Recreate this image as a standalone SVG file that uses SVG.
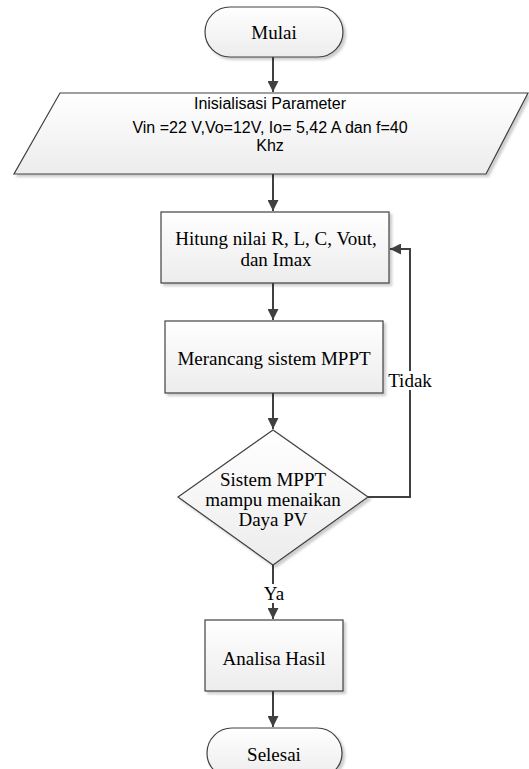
<svg xmlns="http://www.w3.org/2000/svg" width="529" height="769" viewBox="0 0 529 769">
<style>
.shape{fill:url(#g);stroke:#404040;stroke-width:1.2;filter:url(#sh)}
.serif{font-family:"Liberation Serif","Times New Roman",serif;font-size:19px;fill:#000;text-anchor:middle}
.sans{font-family:"Liberation Sans",Arial,sans-serif;font-size:16px;fill:#000;text-anchor:middle}
.conn{fill:none;stroke:#404040;stroke-width:2}
</style>
<defs>
<linearGradient id="g" x1="0" y1="0" x2="0" y2="1">
<stop offset="0" stop-color="#ffffff"/>
<stop offset="1" stop-color="#ececec"/>
</linearGradient>
<filter id="sh" x="-10%" y="-10%" width="130%" height="130%">
<feDropShadow dx="2.5" dy="2.5" stdDeviation="1" flood-color="#000" flood-opacity="0.2"/>
</filter>
<marker id="ah" viewBox="0 0 10 10" refX="10" refY="5" markerWidth="5.5" markerHeight="5.5" orient="auto">
<path d="M0,0 L10,5 L0,10 z" fill="#404040"/>
</marker>
</defs>
<rect width="529" height="769" fill="#fff"/>
<g id="connectors">
<line class="conn" x1="273" y1="57" x2="273" y2="92" marker-end="url(#ah)"/>
<line class="conn" x1="273" y1="174" x2="273" y2="211" marker-end="url(#ah)"/>
<line class="conn" x1="273" y1="283" x2="273" y2="320" marker-end="url(#ah)"/>
<line class="conn" x1="273" y1="393" x2="273" y2="429" marker-end="url(#ah)"/>
<line class="conn" x1="273" y1="565" x2="273" y2="584"/>
<line class="conn" x1="273" y1="603" x2="273" y2="619" marker-end="url(#ah)"/>
<line class="conn" x1="273" y1="691" x2="273" y2="727" marker-end="url(#ah)"/>
<polyline class="conn" points="368,497 410,497 410,390"/>
<polyline class="conn" points="410,371 410,249 390,249" marker-end="url(#ah)"/>
<text class="serif" x="274" y="600">Ya</text>
<text class="serif" x="410" y="387">Tidak</text>
</g>
<g id="mulai">
<rect class="shape" x="205" y="7" width="138" height="50" rx="25" ry="25"/>
<text class="serif" x="274" y="39">Mulai</text>
</g>
<g id="inisialisasi">
<polygon class="shape" points="60,93 528,93 486,174 14,174"/>
<text class="sans" x="270" y="109">Inisialisasi Parameter</text>
<text class="sans" x="270" y="133">Vin =22 V,Vo=12V, Io= 5,42 A dan f=40</text>
<text class="sans" x="270" y="151">Khz</text>
</g>
<g id="hitung">
<rect class="shape" x="161" y="212" width="228" height="71"/>
<text class="serif" x="276" y="245">Hitung nilai R, L, C, Vout,</text>
<text class="serif" x="276" y="266">dan Imax</text>
</g>
<g id="merancang">
<rect class="shape" x="165" y="321" width="218" height="72"/>
<text class="serif" x="274" y="365">Merancang sistem MPPT</text>
</g>
<g id="keputusan">
<polygon class="shape" points="273,430 368,497 273,565 178,497"/>
<text class="serif" x="273" y="486">Sistem MPPT</text>
<text class="serif" x="273" y="506">mampu menaikan</text>
<text class="serif" x="273" y="526">Daya PV</text>
</g>
<g id="analisa">
<rect class="shape" x="205" y="620" width="138" height="71"/>
<text class="serif" x="274" y="665">Analisa Hasil</text>
</g>
<g id="selesai">
<rect class="shape" x="207" y="728" width="135" height="50" rx="25" ry="25"/>
<text class="serif" x="274" y="761">Selesai</text>
</g>
</svg>
